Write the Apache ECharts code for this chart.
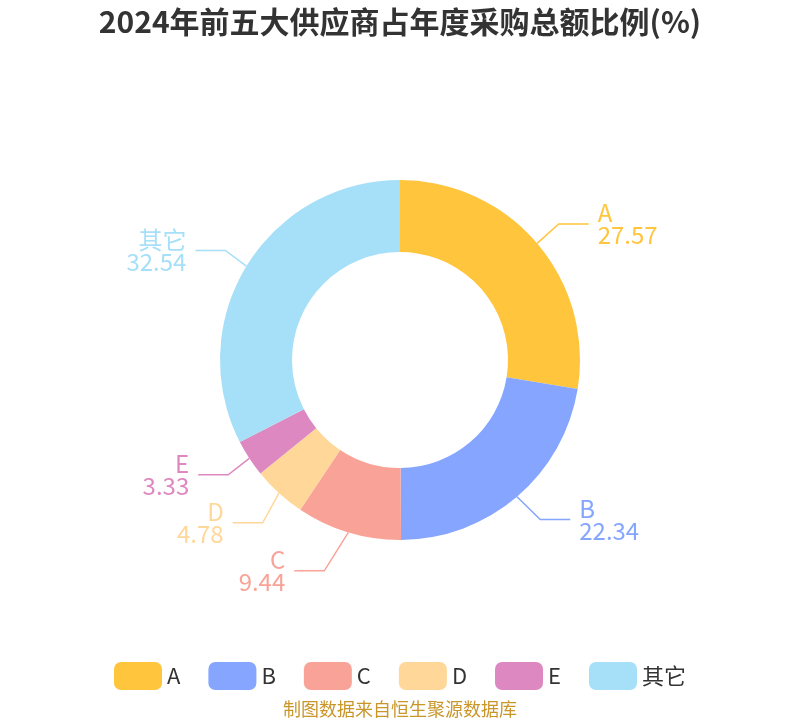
<!DOCTYPE html>
<html><head><meta charset="utf-8">
<script src="https://cdn.jsdelivr.net/npm/echarts@6/dist/echarts.min.js"></script>
<style>html,body{margin:0;padding:0;background:#fff}#c{width:800px;height:720px}</style>
</head><body><div id="c"></div>
<script>
const categories = ['A','B','C','D','E','其它'];
const values = [27.57, 22.34, 9.44, 4.78, 3.33, 32.54];
const colors = ['#FFC53D','#85A5FF','#F9A398','#FFD899','#DD88C0','#A6DFF8'];
const LINE_LEN = 30, LINE_LEN2 = 30, TEXT_GAP = 9;
const chart = echarts.init(document.getElementById('c'));

// Classic pie label placement: after overlap shifting, labels sit on a circle
// of radius r + length + length2 around the pie centre.
function classicLabelLayout(p) {
  const pts = p.labelLinePoints;
  if (!pts) return {};
  const cx = chart.getWidth() / 2, cy = chart.getHeight() / 2;
  const r = Math.hypot(pts[0][0] - cx, pts[0][1] - cy);
  const y = pts[2][1];
  const dir = pts[2][0] < cx ? -1 : 1;
  const R = r + LINE_LEN + LINE_LEN2;
  const dy = Math.abs(y - cy);
  const dx = dy < R ? Math.sqrt(R * R - dy * dy) : Math.abs(pts[2][0] - cx);
  const textX = cx + dir * dx;
  const endX = textX - dir * TEXT_GAP;
  const bendX = endX - dir * LINE_LEN2;
  return {
    x: textX, y: y,
    align: dir > 0 ? 'left' : 'right',
    verticalAlign: 'middle',
    labelLinePoints: [[pts[0][0], pts[0][1]], [bendX, y], [endX, y]]
  };
}

chart.setOption({
  animation:false,
  color: colors,
  title: {
    text: '2024年前五大供应商占年度采购总额比例(%)',
    left: 'center', top: 2,
    textStyle: {fontSize: 30, fontWeight: 'bold', color: '#333', fontFamily: 'Noto Sans CJK SC'}
  },
  graphic: [{
    type: 'text', left: 'center', bottom: 2,
    style: {text: '制图数据来自恒生聚源数据库', fill: '#C9962A', fontSize: 18, fontFamily: 'Noto Sans CJK SC'}
  }],
  legend: {
    bottom: 25, left: 'center',
    itemWidth: 48, itemHeight: 28, itemGap: 28,
    textStyle: {fontSize: 22, color: '#333', fontFamily: 'Noto Sans CJK SC'},
    data: categories
  },
  series: [{
    type: 'pie',
    center: ['50%', '50%'],
    radius: ['30%', '50%'],
    clockwise: true,
    startAngle: 90,
    label: {
      formatter: '{b}\n{c}',
      fontSize: 24,
      lineHeight: 22,
      fontFamily: 'Noto Sans CJK SC'
    },
    labelLine: {length: LINE_LEN, length2: LINE_LEN2, lineStyle: {width: 1.5}},
    labelLayout: classicLabelLayout,
    data: categories.map((n, i) => ({name: n, value: values[i], label: {color: colors[i]}}))
  }]
});
</script></body></html>
